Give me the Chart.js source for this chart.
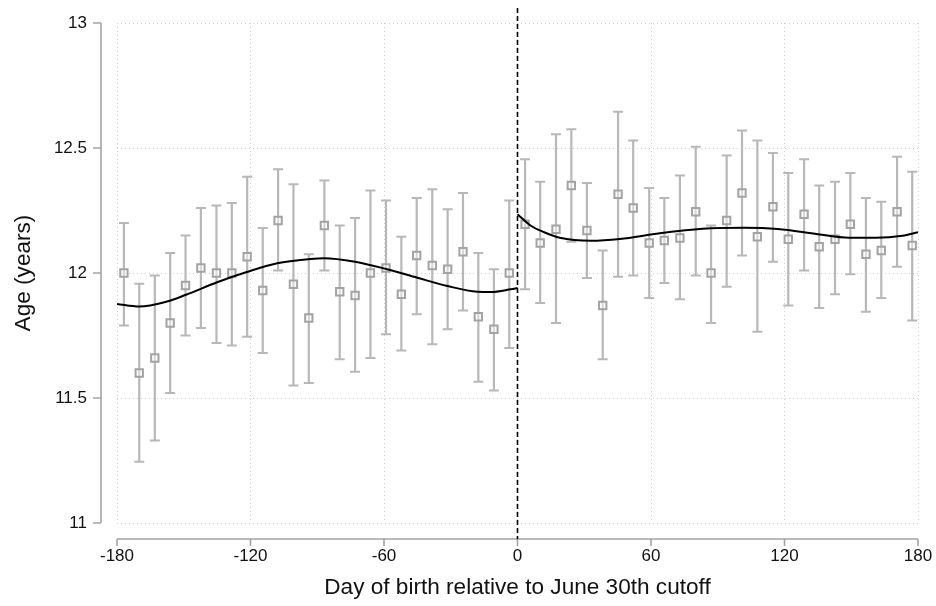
<!DOCTYPE html>
<html>
<head>
<meta charset="utf-8">
<script src="https://cdn.jsdelivr.net/npm/chart.js@4/dist/chart.umd.min.js"></script>
<style>
  html, body { margin: 0; padding: 0; background: #fff; }
  #wrap { width: 936px; height: 606px; }
</style>
</head>
<body>
<div id="wrap"><canvas id="rd" width="936" height="606"></canvas></div>
<script>
// Binned mean age by day of birth, 95% CI, with polynomial fits either side of the cutoff

const binDays = [
  -176.9, -170.0, -163.0, -156.1, -149.2, -142.3, -135.3, -128.4, -121.5, -114.5, -107.6, -100.7, -93.8,
  -86.8, -79.9, -73.0, -66.1, -59.1, -52.2, -45.3, -38.3, -31.4, -24.5, -17.6, -10.6, -3.7,
  3.4, 10.2, 17.3, 24.2, 31.2, 38.3, 45.2, 52.0, 59.2, 66.0, 73.0, 80.1, 87.0,
  94.0, 100.9, 107.8, 114.8, 121.7, 128.8, 135.6, 142.7, 149.6, 156.6, 163.5, 170.6, 177.4
];
const binMeans = [
  12.00, 11.60, 11.66, 11.80, 11.95, 12.02, 12.00, 12.00, 12.065, 11.93, 12.21, 11.955, 11.82,
  12.19, 11.925, 11.91, 12.00, 12.02, 11.915, 12.07, 12.03, 12.015, 12.085, 11.825, 11.775, 12.00,
  12.195, 12.12, 12.175, 12.35, 12.17, 11.87, 12.315, 12.26, 12.12, 12.13, 12.14, 12.245, 12.00,
  12.21, 12.32, 12.145, 12.265, 12.135, 12.235, 12.105, 12.135, 12.195, 12.075, 12.09, 12.245, 12.11
];
const ciLow = [
  11.79, 11.245, 11.33, 11.52, 11.75, 11.78, 11.72, 11.71, 11.745, 11.68, 12.01, 11.55, 11.56,
  12.01, 11.655, 11.605, 11.66, 11.755, 11.69, 11.835, 11.715, 11.775, 11.85, 11.565, 11.53, 11.70,
  11.935, 11.88, 11.80, 12.125, 11.98, 11.655, 11.985, 11.99, 11.90, 11.96, 11.895, 11.99, 11.80,
  11.945, 12.07, 11.765, 12.045, 11.87, 12.01, 11.86, 11.915, 11.995, 11.845, 11.90, 12.025, 11.81
];
const ciHigh = [
  12.20, 11.957, 11.99, 12.08, 12.15, 12.26, 12.27, 12.28, 12.385, 12.18, 12.415, 12.355, 12.075,
  12.37, 12.19, 12.22, 12.33, 12.29, 12.145, 12.30, 12.335, 12.255, 12.32, 12.08, 12.015, 12.29,
  12.455, 12.365, 12.555, 12.575, 12.36, 12.09, 12.645, 12.53, 12.34, 12.30, 12.39, 12.505, 12.19,
  12.47, 12.57, 12.53, 12.48, 12.40, 12.455, 12.35, 12.365, 12.40, 12.30, 12.285, 12.465, 12.405
];

// fitted curves, left and right of the cutoff
const fitLeftDays = [-180, -170, -158, -149, -135, -122, -108, -93, -87, -73, -59, -45, -32, -18, -12, -3, 0];
const fitLeftAge = [11.876, 11.866, 11.885, 11.913, 11.963, 12.003, 12.039, 12.056, 12.059, 12.045, 12.016,
  11.981, 11.949, 11.925, 11.924, 11.935, 11.94];
const fitRightDays = [0, 6, 12, 19, 33, 46, 64, 87, 102, 117, 135, 149, 161, 173, 180];
const fitRightAge = [12.235, 12.189, 12.163, 12.141, 12.129, 12.136, 12.159, 12.179, 12.181, 12.176,
  12.155, 12.141, 12.141, 12.149, 12.163];

const xTicks = [-180, -120, -60, 0, 60, 120, 180];
const yTicks = [11, 11.5, 12, 12.5, 13];
const cutoff = 0;

const FONT = '"Liberation Sans", Arial, Helvetica, sans-serif';
const AXIS_GAP = 16;

function toPoints(xs, ys) {
  return xs.map((x, i) => ({ x, y: ys[i] }));
}

// CI whiskers with caps, under the markers
const errorBars = {
  id: 'errorBars',
  beforeDatasetsDraw(chart) {
    const { ctx, scales: { x, y } } = chart;
    ctx.save();
    ctx.strokeStyle = '#b8b8b8';
    ctx.lineWidth = 2.2;
    binDays.forEach((d, i) => {
      const px = x.getPixelForValue(d);
      const top = y.getPixelForValue(ciHigh[i]);
      const bot = y.getPixelForValue(ciLow[i]);
      ctx.beginPath();
      ctx.moveTo(px, top); ctx.lineTo(px, bot);
      ctx.moveTo(px - 5, top); ctx.lineTo(px + 5, top);
      ctx.moveTo(px - 5, bot); ctx.lineTo(px + 5, bot);
      ctx.stroke();
    });
    ctx.restore();
  }
};

// detached axis lines with outward ticks, plus the dashed cutoff line
const axesAndCutoff = {
  id: 'axesAndCutoff',
  afterDatasetsDraw(chart) {
    const { ctx, chartArea: a, scales: { x, y } } = chart;
    ctx.save();
    ctx.strokeStyle = '#a4a4a4';
    ctx.lineWidth = 1.6;

    const ax = a.left - AXIS_GAP;
    ctx.beginPath();
    ctx.moveTo(ax, y.getPixelForValue(yTicks[0]));
    ctx.lineTo(ax, y.getPixelForValue(yTicks[yTicks.length - 1]));
    yTicks.forEach(v => {
      const py = y.getPixelForValue(v);
      ctx.moveTo(ax, py); ctx.lineTo(ax - 8, py);
    });
    ctx.stroke();

    const ay = a.bottom + AXIS_GAP;
    ctx.beginPath();
    ctx.moveTo(x.getPixelForValue(xTicks[0]), ay);
    ctx.lineTo(x.getPixelForValue(xTicks[xTicks.length - 1]), ay);
    xTicks.forEach(v => {
      const px = x.getPixelForValue(v);
      ctx.moveTo(px, ay); ctx.lineTo(px, ay + 7);
    });
    ctx.stroke();

    const cx = x.getPixelForValue(cutoff);
    ctx.strokeStyle = '#000';
    ctx.lineWidth = 1.6;
    ctx.setLineDash([5, 3]);
    ctx.beginPath();
    ctx.moveTo(cx, a.top - 15);
    ctx.lineTo(cx, ay);
    ctx.stroke();
    ctx.restore();
  }
};

const fitStyle = {
  type: 'line',
  showLine: true,
  borderColor: '#000',
  borderWidth: 2,
  pointRadius: 0,
  cubicInterpolationMode: 'monotone',
  fill: false
};

new Chart(document.getElementById('rd'), {
  type: 'scatter',
  data: {
    datasets: [
      { ...fitStyle, data: toPoints(fitLeftDays, fitLeftAge) },
      { ...fitStyle, data: toPoints(fitRightDays, fitRightAge) },
      {
        data: toPoints(binDays, binMeans),
        pointStyle: 'rect',
        pointRadius: 5.2,
        borderWidth: 2,
        borderColor: '#a3a3a3',
        backgroundColor: 'rgba(255,255,255,0.45)'
      }
    ]
  },
  options: {
    responsive: false,
    animation: false,
    layout: { padding: { top: 23, right: 18, left: 0, bottom: 0 } },
    plugins: { legend: { display: false }, tooltip: { enabled: false } },
    scales: {
      x: {
        type: 'linear',
        min: -180,
        max: 180,
        afterBuildTicks: s => { s.ticks = xTicks.map(v => ({ value: v })); },
        afterFit: s => { s.height = 83; s.paddingLeft = 0; s.paddingRight = 0; },
        grid: { color: '#cfcfcf', lineWidth: 1, drawTicks: false },
        border: { display: false, dash: [1, 3] },
        ticks: { padding: 23, color: '#111', font: { family: FONT, size: 17 }, callback: v => String(v), maxRotation: 0 },
        title: { display: true, text: 'Day of birth relative to June 30th cutoff', color: '#111',
          font: { family: FONT, size: 22.6 }, padding: { top: 0, bottom: 5 } }
      },
      y: {
        min: 11,
        max: 13,
        afterBuildTicks: s => { s.ticks = yTicks.map(v => ({ value: v })); },
        afterFit: s => { s.width = 117; s.paddingTop = 0; s.paddingBottom = 0; },
        grid: { color: '#cfcfcf', lineWidth: 1, drawTicks: false },
        border: { display: false, dash: [1, 3] },
        ticks: { padding: 30, color: '#111', font: { family: FONT, size: 17 }, callback: v => String(v) },
        title: { display: true, text: 'Age (years)', color: '#111',
          font: { family: FONT, size: 22.6 }, padding: { top: 10, bottom: 0 } }
      }
    }
  },
  plugins: [errorBars, axesAndCutoff]
});
</script>
</body>
</html>
